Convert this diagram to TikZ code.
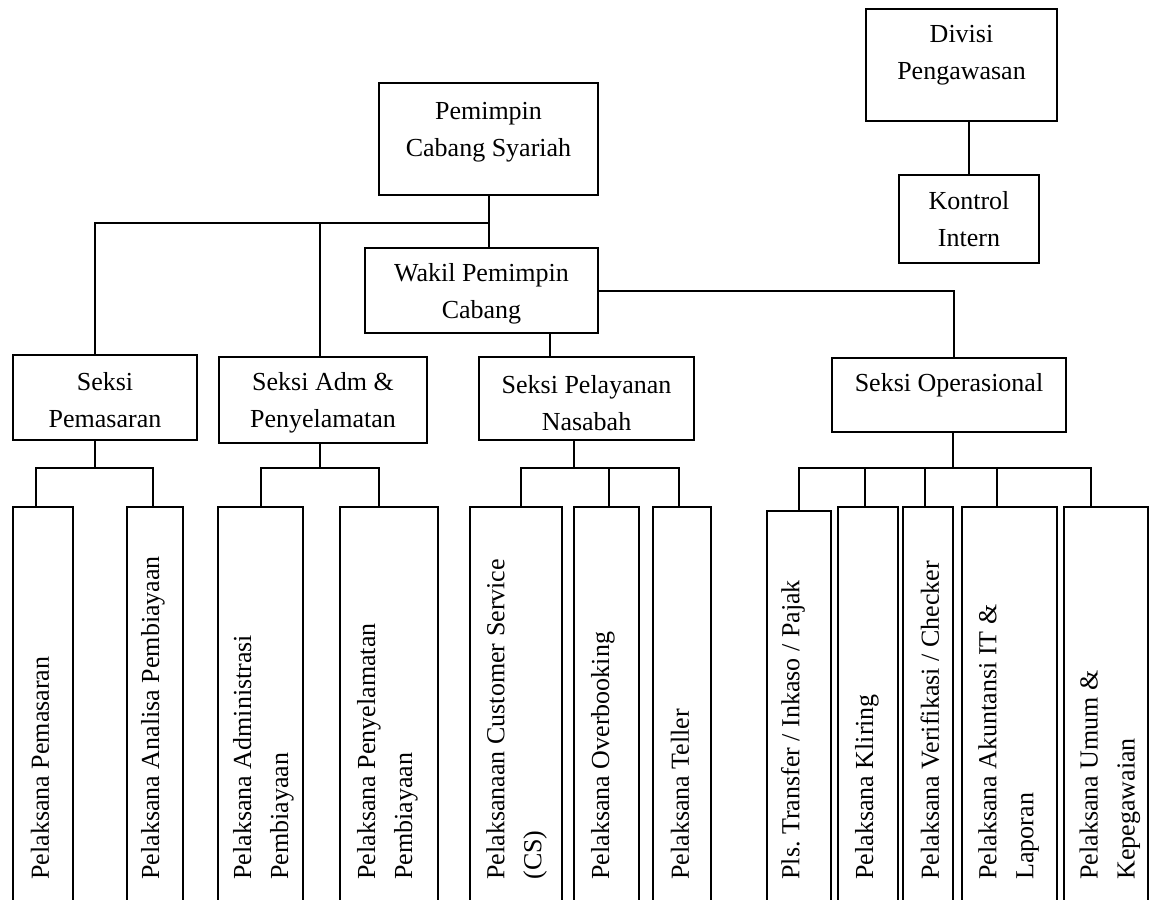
\documentclass[tikz,border=0pt]{standalone}
\usepackage{fontspec}
\setmainfont{Liberation Serif}
\usetikzlibrary{positioning}
\tikzset{
  unit/.style={draw,line width=1pt,inner sep=0pt},
  leaf/.style={unit,minimum height=211.5pt},
  lbl/.style={align=center,inner sep=0pt},
  vlbl/.style={align=left,inner sep=0pt,rotate=90,anchor=west},
  wire/.style={line width=1pt}
}

\begin{document}
\begin{tikzpicture}[x=0.5pt,y=-0.5pt,font=\fontsize{13}{18.5}\selectfont]
  \useasboundingbox (0,0) rectangle (1150,899);
  \clip (0,0) rectangle (1150,899);

  % pengawasan
  \node[unit,minimum width=95.5pt,minimum height=56pt] (div) at (961.5,65) {};
  \node[lbl] (div-t) at ([yshift=5pt]div.center) {Divisi\\Pengawasan};
  \node[unit,minimum width=70pt,minimum height=44pt] (kon) at (969,219) {};
  \node[lbl] (kon-t) at (kon.center) {Kontrol\\Intern};
  \draw[wire] (kon.north) -- (kon.north |- div.south);

  % pimpinan
  \node[unit,minimum width=109.5pt,minimum height=56pt] (pcs) at (488.5,139) {};
  \node[lbl] (pcs-t) at ([yshift=3.5pt]pcs.center) {Pemimpin\\Cabang Syariah};
  \node[unit,minimum width=116.5pt,minimum height=42.5pt] (wpc) at (481.5,290.5) {};
  \node[lbl] (wpc-t) at ([yshift=-1.5pt]wpc.center) {Wakil Pemimpin\\Cabang};

  % seksi
  \node[unit,minimum width=92pt,minimum height=42.5pt] (sp) at (105,397.5) {};
  \node[lbl] (sp-t) at ([yshift=-1.25pt]sp.center) {Seksi\\Pemasaran};
  \node[unit,minimum width=104pt,minimum height=43pt] (adm) at (323,400) {};
  \node[lbl] (adm-t) at ([yshift=-1.5pt]adm.center) {Seksi Adm \&\\Penyelamatan};
  \node[unit,minimum width=107.5pt,minimum height=41.5pt] (pel) at (586.5,398.5) {};
  \node[lbl] (pel-t) at ([yshift=-2.5pt]pel.center) {Seksi Pelayanan\\Nasabah};
  \node[unit,minimum width=117pt,minimum height=37pt] (ops) at (949,395) {};
  \node[lbl] (ops-t) at ([yshift=5pt]ops.center) {Seksi Operasional};

  \coordinate (j0) at (pcs.south |- 0,223);
  \draw[wire] (pcs.south) -- (pcs.south |- wpc.north);
  \draw[wire] (j0) -| ([xshift=-5pt]sp.north);
  \draw[wire] (j0) -| ([xshift=-1.5pt]adm.north);
  \draw[wire] (wpc.east) -| ([xshift=2.5pt]ops.north);
  \coordinate (w1) at ([xshift=34pt]wpc.south);
  \draw[wire] (w1) -- (w1 |- pel.north);

  % pelaksana
  \node[leaf,minimum width=30pt] (lp1) at (43,718.5) {};
  \node[vlbl] (lp1-t) at (40,880) {Pelaksana Pemasaran};
  \node[leaf,minimum width=28pt] (lp2) at (155,718.5) {};
  \node[vlbl] (lp2-t) at (153,880) {Pelaksana Analisa Pembiayaan};
  \node[leaf,minimum width=42.5pt] (la1) at (260.5,718.5) {};
  \node[vlbl] (la1-t) at (263.5,880) {Pelaksana Administrasi\\Pembiayaan};
  \node[leaf,minimum width=49pt] (la2) at (389,718.5) {};
  \node[vlbl] (la2-t) at (387.5,880) {Pelaksana Penyelamatan\\Pembiayaan};
  \node[leaf,minimum width=46pt] (lc1) at (516,718.5) {};
  \node[vlbl] (lc1-t) at (516.5,880) {Pelaksanaan Customer Service\\(CS)};
  \node[leaf,minimum width=32.5pt] (lc2) at (606.5,718.5) {};
  \node[vlbl] (lc2-t) at (603,880) {Pelaksana Overbooking};
  \node[leaf,minimum width=29pt] (lc3) at (682,718.5) {};
  \node[vlbl] (lc3-t) at (680,880) {Pelaksana Teller};
  \node[leaf,minimum width=32pt,minimum height=209.5pt] (lo1) at (799,720.5) {};
  \node[vlbl] (lo1-t) at (793,880) {Pls.\ Transfer / Inkaso / Pajak};
  \node[leaf,minimum width=30pt] (lo2) at (868,718.5) {};
  \node[vlbl] (lo2-t) at (867,880) {Pelaksana Kliring};
  \node[leaf,minimum width=25pt] (lo3) at (928,718.5) {};
  \node[vlbl] (lo3-t) at (930,880) {Pelaksana Verifikasi / Checker};
  \node[leaf,minimum width=47.5pt] (lo4) at (1009.5,718.5) {};
  \node[vlbl] (lo4-t) at (1008.5,880) {Pelaksana Akuntansi IT \&\\Laporan};
  \node[leaf,minimum width=42pt] (lo5) at (1106,718.5) {};
  \node[vlbl] (lo5-t) at (1110,880) {Pelaksana Umum \&\\Kepegawaian};

  \draw[wire] ([xshift=-5pt]sp.south) -- ++(0,27) coordinate (spj);
  \draw[wire] (spj) -| ([xshift=-3.5pt]lp1.north);
  \draw[wire] (spj) -| ([xshift=-1pt]lp2.north);
  \draw[wire] ([xshift=-1.5pt]adm.south) -- ++(0,24) coordinate (admj);
  \draw[wire] (admj) -| (la1.north);
  \draw[wire] (admj) -| ([xshift=-5pt]la2.north);
  \draw[wire] ([xshift=-6.25pt]pel.south) -- ++(0,27) coordinate (pelj);
  \draw[wire] (pelj) -| ([xshift=2.5pt]lc1.north);
  \draw[wire] (pelj) -| ([xshift=1.25pt]lc2.north);
  \draw[wire] (pelj) -| ([xshift=-1.5pt]lc3.north);
  \draw[wire] ([xshift=2pt]ops.south) -- ++(0,35) coordinate (opsj);
  \draw[wire] (opsj) -| (lo1.north);
  \draw[wire] (opsj) -| ([xshift=-1.5pt]lo2.north);
  \draw[wire] (opsj) -| ([xshift=-1.5pt]lo3.north);
  \draw[wire] (opsj) -| ([xshift=-6.25pt]lo4.north);
  \draw[wire] (opsj) -| ([xshift=-7.5pt]lo5.north);
\end{tikzpicture}
\end{document}
